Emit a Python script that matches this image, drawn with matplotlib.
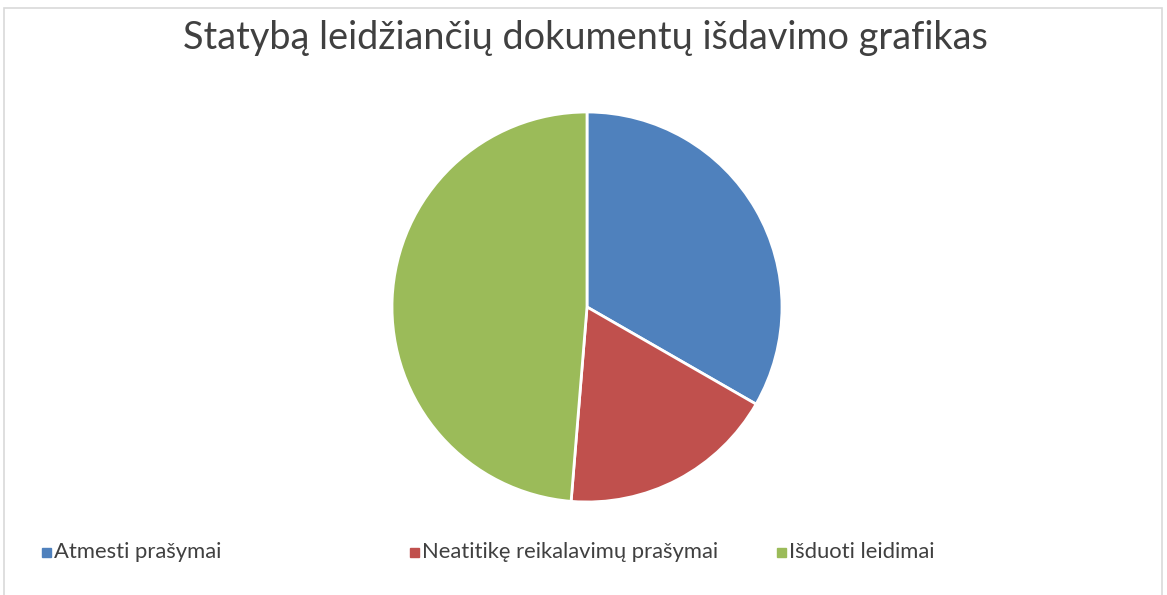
import matplotlib
matplotlib.use('Agg')
import matplotlib.pyplot as plt
from matplotlib.patches import Rectangle

title = 'Statybą leidžiančių dokumentų išdavimo grafikas'
labels = ['Atmesti prašymai', 'Neatitikę reikalavimų prašymai', 'Išduoti leidimai']
values = [33.3, 18.0, 48.7]
colors = ['#4F81BD', '#C0504D', '#9BBB59']

plt.rcParams['font.family'] = ['Lato', 'DejaVu Sans']

W, H = 1167, 595
fig = plt.figure(figsize=(W / 100, H / 100), dpi=100)

# light frame around the chart area
fig.patches.append(Rectangle((4 / W, -0.01), 1158 / W, 1 - 8 / H + 0.01,
                             transform=fig.transFigure, fill=False,
                             edgecolor='#d9d9d9', linewidth=1.2))

cx, cy, r = 587, 307, 195
ax = fig.add_axes([(cx - r) / W, (H - cy - r) / H, 2 * r / W, 2 * r / H])
ax.pie(values, colors=colors, startangle=90, counterclock=False,
       wedgeprops=dict(edgecolor='white', linewidth=2))
ax.set_xlim(-1, 1)
ax.set_ylim(-1, 1)
ax.set_aspect('equal')
ax.axis('off')

fig.text(585 / W, 1 - 38 / H, title, ha='center', va='center',
         fontsize=27.3, color='#404040')

x0 = 42
step = 367.5
for i, (lab, col) in enumerate(zip(labels, colors)):
    x = x0 + i * step
    fig.patches.append(Rectangle((x / W, 1 - 557 / H), 9 / W, 9 / H,
                                 transform=fig.transFigure, color=col))
    fig.text((x + 12) / W, 1 - 552 / H, lab, ha='left', va='center',
             fontsize=15.8, color='#404040')

fig.savefig('out.png', dpi=100)
plt.close(fig)
